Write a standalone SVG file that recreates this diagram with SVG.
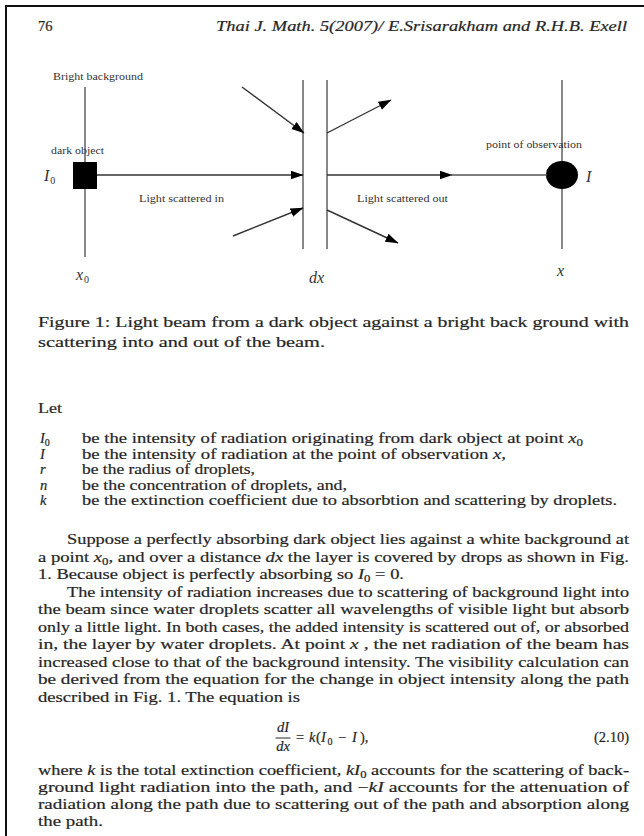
<svg xmlns="http://www.w3.org/2000/svg" width="644" height="836" viewBox="0 0 644 836">
<style>
.pg{stroke:#111;stroke-width:2;fill:none}
.ln{stroke:#555;stroke-width:1.4;fill:none}
.ar{stroke:#333;stroke-width:1.4;fill:none;marker-end:url(#ah)}
.ft{font-family:"Liberation Serif","Times New Roman",serif;font-size:11px;fill:#333}
.fm{font-family:"Liberation Serif","Times New Roman",serif;font-size:16px;font-style:italic;fill:#333}
.tx{font-family:"Liberation Serif","Times New Roman",serif;font-size:14.5px;fill:#262626;stroke:#262626;stroke-width:0.2}
.it{font-style:italic}
</style>
<defs>
<marker id="ah" markerWidth="13" markerHeight="10" refX="12.5" refY="5" orient="auto" markerUnits="userSpaceOnUse">
<path d="M0,0.6 L13,5 L0,9.4 z" fill="#000"/>
</marker>
</defs>
<rect width="644" height="836" fill="#fff"/>
<path class="pg" d="M6,836 V6 H644"/>

<g id="header">
<text class="tx" x="38" y="31">76</text>
<text class="tx it" x="216" y="31" textLength="411" lengthAdjust="spacingAndGlyphs">Thai J. Math. 5(2007)/ E.Srisarakham and R.H.B. Exell</text>
</g>

<g id="figure">
<g id="dark-object">
<line class="ln" x1="85" y1="87" x2="85" y2="257"/>
<rect x="73" y="162" width="24" height="27" fill="#000"/>
<text class="ft" x="53" y="80" textLength="90" lengthAdjust="spacingAndGlyphs">Bright background</text>
<text class="ft" x="51" y="154" textLength="53" lengthAdjust="spacingAndGlyphs">dark object</text>
<text class="fm" x="44" y="181">I<tspan font-size="10" font-style="normal" dx="1" dy="3">0</tspan></text>
<text class="fm" x="76" y="280">x<tspan font-size="10" font-style="normal" dx="1" dy="3">0</tspan></text>
</g>
<g id="dx-layer">
<line class="ln" x1="303" y1="80" x2="303" y2="249"/>
<line class="ln" x1="327" y1="80" x2="327" y2="249"/>
<text class="fm" x="309" y="283">dx</text>
</g>
<g id="observation-point">
<line class="ln" x1="562" y1="80" x2="562" y2="249"/>
<ellipse cx="562" cy="175" rx="16" ry="14" fill="#000"/>
<text class="ft" x="486" y="148" textLength="96" lengthAdjust="spacingAndGlyphs">point of observation</text>
<text class="fm" x="586" y="182">I</text>
<text class="fm" x="557" y="276">x</text>
</g>
<g id="connectors">
<line class="ar" x1="97" y1="175" x2="303" y2="175"/>
<line class="ar" x1="242" y1="87" x2="304" y2="133"/>
<line class="ar" x1="233" y1="236" x2="303" y2="208"/>
<line class="ar" x1="327" y1="133" x2="391" y2="100"/>
<line class="ar" x1="327" y1="210" x2="398" y2="243"/>
<line class="ar" x1="327" y1="175" x2="452" y2="175"/>
<line class="ln" x1="450" y1="175" x2="547" y2="175"/>
</g>
<text class="ft" x="139" y="202" textLength="85" lengthAdjust="spacingAndGlyphs">Light scattered in</text>
<text class="ft" x="357" y="202" textLength="91" lengthAdjust="spacingAndGlyphs">Light scattered out</text>
</g>

<g id="caption">
<text class="tx" x="38" y="327" textLength="591" lengthAdjust="spacingAndGlyphs">Figure 1: Light beam from a dark object against a bright back ground with</text>
<text class="tx" x="38" y="347" textLength="287" lengthAdjust="spacingAndGlyphs">scattering into and out of the beam.</text>
</g>

<g id="definitions">
<text class="tx" x="38" y="413" textLength="24" lengthAdjust="spacingAndGlyphs">Let</text>
<text class="tx it" x="40" y="443">I<tspan font-size="10" font-style="normal" dy="3">0</tspan></text>
<text class="tx" x="82" y="443" textLength="501" lengthAdjust="spacingAndGlyphs">be the intensity of radiation originating from dark object at point <tspan class="it">x</tspan><tspan font-size="10" dy="3">0</tspan></text>
<text class="tx it" x="40" y="458.5">I</text>
<text class="tx" x="82" y="458.5" textLength="424" lengthAdjust="spacingAndGlyphs">be the intensity of radiation at the point of observation <tspan class="it">x</tspan>,</text>
<text class="tx it" x="40" y="474">r</text>
<text class="tx" x="82" y="474" textLength="173" lengthAdjust="spacingAndGlyphs">be the radius of droplets,</text>
<text class="tx it" x="40" y="489.5">n</text>
<text class="tx" x="82" y="489.5" textLength="265" lengthAdjust="spacingAndGlyphs">be the concentration of droplets, and,</text>
<text class="tx it" x="40" y="505">k</text>
<text class="tx" x="82" y="505" textLength="535" lengthAdjust="spacingAndGlyphs">be the extinction coefficient due to absorbtion and scattering by droplets.</text>
</g>

<g id="body">
<text class="tx" x="67" y="544" textLength="562" lengthAdjust="spacingAndGlyphs">Suppose a perfectly absorbing dark object lies against a white background at</text>
<text class="tx" x="38" y="561.5" textLength="591" lengthAdjust="spacingAndGlyphs">a point <tspan class="it">x</tspan><tspan font-size="10" dy="3">0</tspan><tspan dy="-3">, and over a distance </tspan><tspan class="it">dx</tspan> the layer is covered by drops as shown in Fig.</text>
<text class="tx" x="38" y="579" textLength="366" lengthAdjust="spacingAndGlyphs">1. Because object is perfectly absorbing so <tspan class="it">I</tspan><tspan font-size="10" dy="3">0</tspan><tspan dy="-3"> = 0.</tspan></text>
<text class="tx" x="67" y="596.5" textLength="562" lengthAdjust="spacingAndGlyphs">The intensity of radiation increases due to scattering of background light into</text>
<text class="tx" x="38" y="614" textLength="591" lengthAdjust="spacingAndGlyphs">the beam since water droplets scatter all wavelengths of visible light but absorb</text>
<text class="tx" x="38" y="631.5" textLength="591" lengthAdjust="spacingAndGlyphs">only a little light. In both cases, the added intensity is scattered out of, or absorbed</text>
<text class="tx" x="38" y="649" textLength="591" lengthAdjust="spacingAndGlyphs">in, the layer by water droplets. At point <tspan class="it">x</tspan> , the net radiation of the beam has</text>
<text class="tx" x="38" y="666.5" textLength="591" lengthAdjust="spacingAndGlyphs">increased close to that of the background intensity. The visibility calculation can</text>
<text class="tx" x="38" y="684" textLength="591" lengthAdjust="spacingAndGlyphs">be derived from the equation for the change in object intensity along the path</text>
<text class="tx" x="38" y="701.5" textLength="262" lengthAdjust="spacingAndGlyphs">described in Fig. 1. The equation is</text>
</g>

<g id="equation">
<text class="tx it" x="283" y="732" text-anchor="middle" font-size="15.5">dI</text>
<line x1="275.5" y1="738" x2="290.5" y2="738" stroke="#262626" stroke-width="1"/>
<text class="tx it" x="283" y="751" text-anchor="middle" font-size="15.5">dx</text>
<text class="tx" y="742" font-size="15"><tspan x="296">=</tspan><tspan class="it" x="309">k</tspan><tspan x="316">(</tspan><tspan class="it" x="321">I</tspan><tspan font-size="10" x="327.5" dy="3">0</tspan><tspan x="338" dy="-3">−</tspan><tspan class="it" x="352">I</tspan><tspan x="360">),</tspan></text>
<text class="tx" x="629" y="742" text-anchor="end">(2.10)</text>
</g>

<g id="body2">
<text class="tx" x="38" y="775" textLength="591" lengthAdjust="spacingAndGlyphs">where <tspan class="it">k</tspan> is the total extinction coefficient, <tspan class="it">kI</tspan><tspan font-size="10" dy="3">0</tspan><tspan dy="-3"> accounts for the scattering of back-</tspan></text>
<text class="tx" x="38" y="792" textLength="591" lengthAdjust="spacingAndGlyphs">ground light radiation into the path, and −<tspan class="it">kI</tspan> accounts for the attenuation of</text>
<text class="tx" x="38" y="809" textLength="591" lengthAdjust="spacingAndGlyphs">radiation along the path due to scattering out of the path and absorption along</text>
<text class="tx" x="38" y="826" textLength="65" lengthAdjust="spacingAndGlyphs">the path.</text>
</g>
</svg>
